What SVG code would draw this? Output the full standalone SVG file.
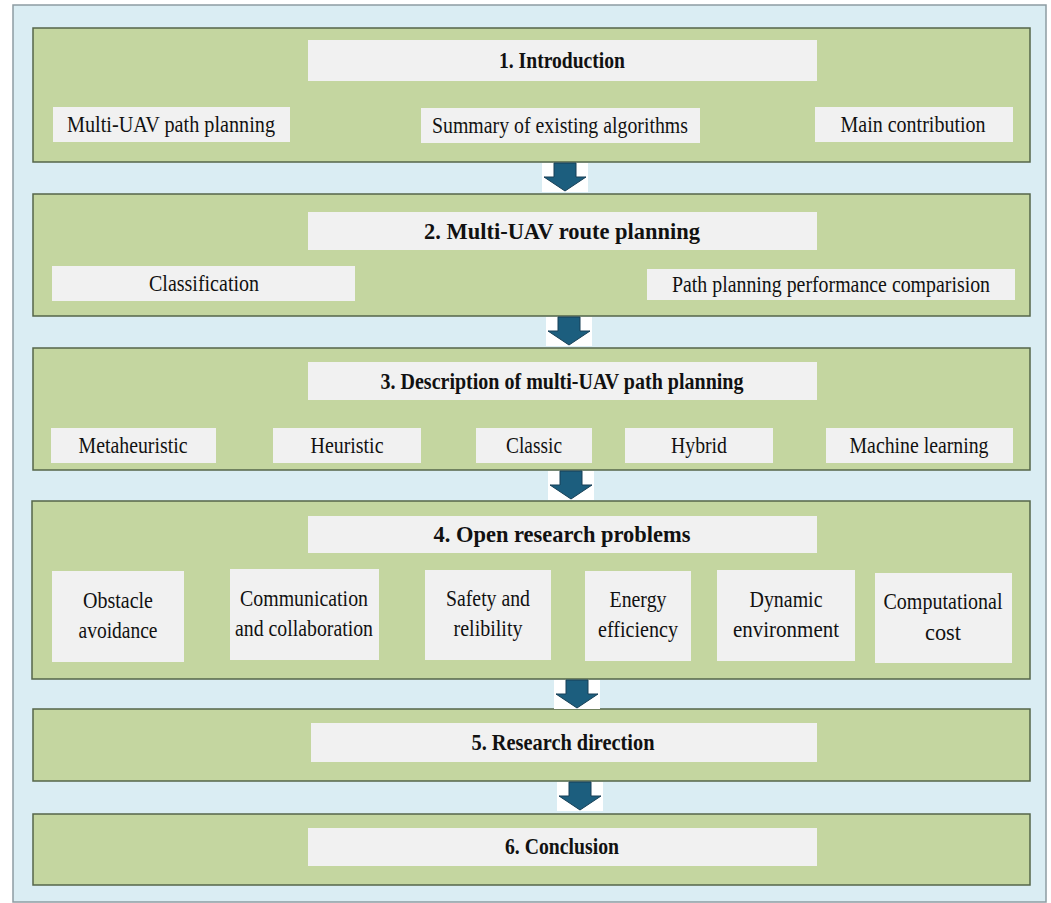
<svg xmlns="http://www.w3.org/2000/svg" width="1051" height="903" viewBox="0 0 1051 903">
  <style>
    .frame { fill: #daedf3; stroke: #8d9ca2; stroke-width: 1.5; }
    .panel { fill: #c4d6a0; stroke: #55664a; stroke-width: 1.5; }
    .box { fill: #f1f1f1; }
    .t { font-family: "Liberation Serif", "Times New Roman", serif; font-size: 23px; fill: #111; text-anchor: middle; }
    .b { font-weight: bold; }
    .arrow { fill: #1c5e7e; stroke: #163f56; stroke-width: 1; }
    .pad { fill: #ffffff; }
  </style>
  <defs>
    <!-- down arrow centred on x=0, spanning y 0..28 -->
    <g id="down">
      <rect class="pad" x="-23" y="0" width="46" height="29"/>
      <polygon class="arrow" points="-11,0 11,0 11,14 21,14 0,28 -21,14 -11,14"/>
    </g>
  </defs>

  <rect class="frame" x="13" y="5" width="1033" height="897"/>

  <g id="sec1">
    <rect class="panel" x="33" y="28" width="997" height="134"/>
    <rect class="box" x="308" y="40" width="509" height="41"/>
    <text class="t b" x="562" y="68" textLength="126" lengthAdjust="spacingAndGlyphs">1. Introduction</text>
    <rect class="box" x="53" y="107" width="237" height="35"/>
    <text class="t" x="171" y="132" textLength="208" lengthAdjust="spacingAndGlyphs">Multi-UAV path planning</text>
    <rect class="box" x="421" y="108" width="279" height="35"/>
    <text class="t" x="560" y="133" textLength="256" lengthAdjust="spacingAndGlyphs">Summary of existing algorithms</text>
    <rect class="box" x="815" y="107" width="198" height="35"/>
    <text class="t" x="913" y="132" textLength="145" lengthAdjust="spacingAndGlyphs">Main contribution</text>
  </g>

  <g id="sec2">
    <rect class="panel" x="33" y="194" width="997" height="122"/>
    <rect class="box" x="308" y="212" width="509" height="38"/>
    <text class="t b" x="562" y="239" textLength="276" lengthAdjust="spacingAndGlyphs">2. Multi-UAV route planning</text>
    <rect class="box" x="52" y="266" width="303" height="35"/>
    <text class="t" x="204" y="291" textLength="110" lengthAdjust="spacingAndGlyphs">Classification</text>
    <rect class="box" x="647" y="269" width="368" height="31"/>
    <text class="t" x="831" y="292" textLength="318" lengthAdjust="spacingAndGlyphs">Path planning performance comparision</text>
  </g>

  <g id="sec3">
    <rect class="panel" x="33" y="348" width="997" height="122"/>
    <rect class="box" x="308" y="362" width="509" height="38"/>
    <text class="t b" x="562" y="389" textLength="363" lengthAdjust="spacingAndGlyphs">3. Description of multi-UAV path planning</text>
    <rect class="box" x="51" y="428" width="165" height="35"/>
    <text class="t" x="133" y="453" textLength="109" lengthAdjust="spacingAndGlyphs">Metaheuristic</text>
    <rect class="box" x="273" y="428" width="148" height="35"/>
    <text class="t" x="347" y="453" textLength="73" lengthAdjust="spacingAndGlyphs">Heuristic</text>
    <rect class="box" x="476" y="428" width="116" height="35"/>
    <text class="t" x="534" y="453" textLength="56" lengthAdjust="spacingAndGlyphs">Classic</text>
    <rect class="box" x="625" y="428" width="148" height="35"/>
    <text class="t" x="699" y="453" textLength="56" lengthAdjust="spacingAndGlyphs">Hybrid</text>
    <rect class="box" x="826" y="428" width="187" height="35"/>
    <text class="t" x="919" y="453" textLength="139" lengthAdjust="spacingAndGlyphs">Machine learning</text>
  </g>

  <g id="sec4">
    <rect class="panel" x="32" y="501" width="998" height="178"/>
    <rect class="box" x="308" y="516" width="509" height="37"/>
    <text class="t b" x="562" y="542" textLength="257" lengthAdjust="spacingAndGlyphs">4. Open research problems</text>
    <rect class="box" x="52" y="571" width="132" height="91"/>
    <text class="t" x="118" y="608" textLength="70" lengthAdjust="spacingAndGlyphs">Obstacle</text>
    <text class="t" x="118" y="638" textLength="79" lengthAdjust="spacingAndGlyphs">avoidance</text>
    <rect class="box" x="230" y="569" width="149" height="91"/>
    <text class="t" x="304" y="606" textLength="128" lengthAdjust="spacingAndGlyphs">Communication</text>
    <text class="t" x="304" y="636" textLength="138" lengthAdjust="spacingAndGlyphs">and collaboration</text>
    <rect class="box" x="425" y="570" width="126" height="90"/>
    <text class="t" x="488" y="606" textLength="84" lengthAdjust="spacingAndGlyphs">Safety and</text>
    <text class="t" x="488" y="636" textLength="69" lengthAdjust="spacingAndGlyphs">relibility</text>
    <rect class="box" x="585" y="571" width="106" height="90"/>
    <text class="t" x="638" y="607" textLength="57" lengthAdjust="spacingAndGlyphs">Energy</text>
    <text class="t" x="638" y="637" textLength="80" lengthAdjust="spacingAndGlyphs">efficiency</text>
    <rect class="box" x="717" y="570" width="138" height="91"/>
    <text class="t" x="786" y="607" textLength="73" lengthAdjust="spacingAndGlyphs">Dynamic</text>
    <text class="t" x="786" y="637" textLength="106" lengthAdjust="spacingAndGlyphs">environment</text>
    <rect class="box" x="875" y="573" width="137" height="90"/>
    <text class="t" x="943" y="609" textLength="119" lengthAdjust="spacingAndGlyphs">Computational</text>
    <text class="t" x="943" y="640" textLength="36" lengthAdjust="spacingAndGlyphs">cost</text>
  </g>

  <g id="sec5">
    <rect class="panel" x="33" y="709" width="997" height="72"/>
    <rect class="box" x="311" y="723" width="506" height="39"/>
    <text class="t b" x="563" y="750" textLength="183" lengthAdjust="spacingAndGlyphs">5. Research direction</text>
  </g>

  <g id="sec6">
    <rect class="panel" x="33" y="814" width="997" height="71"/>
    <rect class="box" x="308" y="828" width="509" height="38"/>
    <text class="t b" x="562" y="854" textLength="114" lengthAdjust="spacingAndGlyphs">6. Conclusion</text>
  </g>

  <g id="connectors">
    <use href="#down" x="565" y="163"/>
    <use href="#down" x="569" y="317"/>
    <use href="#down" x="571" y="471"/>
    <use href="#down" x="577" y="680"/>
    <use href="#down" x="580" y="782"/>
  </g>
</svg>
